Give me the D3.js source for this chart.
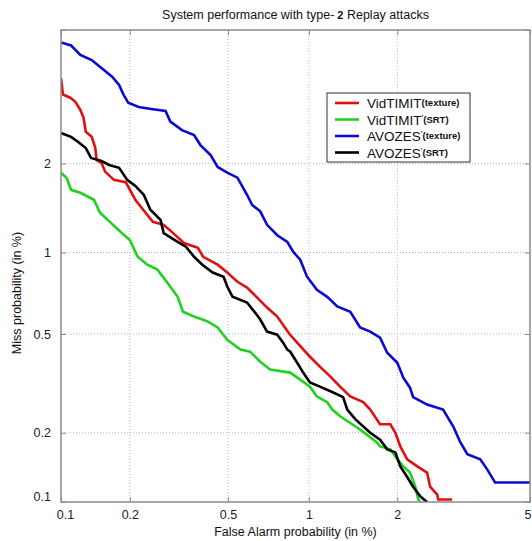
<!DOCTYPE html>
<html><head><meta charset="utf-8">
<script src="https://cdn.jsdelivr.net/npm/d3@7"></script>
<style>body{margin:0;background:#fff;} svg{display:block;font-family:Arial,"Liberation Sans",sans-serif;}</style>
</head><body><svg id="c" width="532" height="541"></svg>
<script>
// ---- data (percent values: [false alarm %, miss %]) ----
const tickValues = [0.1, 0.2, 0.5, 1, 2, 5];
const xTickLabels = ["0.1", "0.2", "0.5", "1", "2", "5"];
const yTickLabels = ["0.1", "0.2", "0.5", "1", "2", ""];
const seriesNames = ["VidTIMIT(texture)", "VidTIMIT'(SRT)", "AVOZES'(texture)", "AVOZES'(SRT)"];
const seriesColors = ["#e01010", "#22d022", "#0a0ad0", "#000000"];

const vidTimitTexture = [[0.100,3.66],[0.102,3.27],[0.110,3.20],[0.116,3.11],[0.122,2.94],[0.126,2.79],[0.129,2.52],[0.137,2.43],[0.142,2.24],[0.144,2.05],[0.151,2.01],[0.157,1.88],[0.171,1.77],[0.192,1.74],[0.197,1.68],[0.211,1.52],[0.233,1.375],[0.250,1.28],[0.277,1.25],[0.303,1.17],[0.335,1.08],[0.381,1.04],[0.400,0.966],[0.456,0.905],[0.497,0.848],[0.544,0.785],[0.592,0.747],[0.647,0.686],[0.704,0.630],[0.768,0.583],[0.850,0.501],[0.923,0.454],[1.009,0.408],[1.094,0.373],[1.191,0.340],[1.287,0.310],[1.395,0.283],[1.543,0.268],[1.629,0.25],[1.756,0.217],[1.898,0.217],[1.971,0.20],[2.045,0.175],[2.152,0.154],[2.317,0.1435],[2.488,0.135],[2.543,0.117],[2.675,0.108],[2.694,0.1026],[2.973,0.1026]];
const vidTimitSRT = [[0.100,1.866],[0.106,1.796],[0.111,1.641],[0.122,1.605],[0.140,1.52],[0.149,1.375],[0.166,1.269],[0.183,1.18],[0.200,1.107],[0.216,0.966],[0.237,0.905],[0.261,0.869],[0.287,0.779],[0.316,0.691],[0.332,0.608],[0.368,0.583],[0.416,0.559],[0.456,0.530],[0.497,0.475],[0.559,0.435],[0.608,0.427],[0.664,0.39],[0.723,0.363],[0.857,0.353],[0.931,0.331],[1.009,0.310],[1.068,0.283],[1.161,0.268],[1.210,0.25],[1.287,0.2345],[1.506,0.2065],[1.715,0.182],[1.756,0.175],[1.898,0.17],[2.0,0.154],[2.091,0.1435],[2.197,0.135],[2.283,0.117],[2.334,0.1026],[2.367,0.100]];
const avozesTexture = [[0.100,4.62],[0.111,4.53],[0.122,4.26],[0.137,4.12],[0.151,3.91],[0.168,3.69],[0.180,3.49],[0.188,3.27],[0.197,3.09],[0.218,3.00],[0.246,2.96],[0.282,2.92],[0.295,2.71],[0.329,2.55],[0.368,2.46],[0.390,2.29],[0.428,2.13],[0.456,1.95],[0.497,1.87],[0.544,1.80],[0.592,1.58],[0.619,1.46],[0.664,1.39],[0.704,1.25],[0.768,1.15],[0.836,1.09],[0.879,1.005],[0.931,0.943],[0.985,0.819],[1.068,0.734],[1.161,0.691],[1.258,0.636],[1.395,0.608],[1.506,0.530],[1.629,0.511],[1.756,0.484],[1.854,0.423],[2.0,0.386],[2.091,0.337],[2.197,0.307],[2.248,0.281],[2.488,0.262],[2.789,0.25],[2.994,0.213],[3.149,0.182],[3.304,0.162],[3.607,0.154],[3.784,0.139],[3.987,0.122],[5.0,0.122]];
const avozesSRT = [[0.100,2.497],[0.111,2.43],[0.119,2.345],[0.129,2.24],[0.136,2.085],[0.151,2.04],[0.163,1.979],[0.180,1.937],[0.195,1.77],[0.211,1.69],[0.229,1.58],[0.244,1.408],[0.269,1.30],[0.277,1.17],[0.316,1.09],[0.342,1.047],[0.368,0.966],[0.397,0.905],[0.436,0.848],[0.481,0.819],[0.497,0.754],[0.521,0.691],[0.592,0.658],[0.636,0.602],[0.664,0.568],[0.704,0.511],[0.768,0.497],[0.807,0.463],[0.836,0.435],[0.857,0.427],[0.908,0.3865],[0.954,0.353],[1.009,0.3225],[1.094,0.310],[1.219,0.2935],[1.318,0.281],[1.362,0.25],[1.450,0.228],[1.629,0.20],[1.756,0.187],[1.854,0.17],[1.971,0.165],[2.045,0.1435],[2.152,0.129],[2.248,0.117],[2.367,0.106],[2.488,0.10]];

// ---- normal deviate (probit) ----
function probit(p){
 const a=[-3.969683028665376e+01,2.209460984245205e+02,-2.759285104469687e+02,1.383577518672690e+02,-3.066479806614716e+01,2.506628277459239e+00];
 const b=[-5.447609879822406e+01,1.615858368580409e+02,-1.556989798598866e+02,6.680131188771972e+01,-1.328068155288572e+01];
 const c=[-7.784894002430293e-03,-3.223964580411365e-01,-2.400758277161838e+00,-2.549732539343734e+00,4.374664141464968e+00,2.938163982698783e+00];
 const d=[7.784695709041462e-03,3.224671290700398e-01,2.445134137142996e+00,3.754408661907416e+00];
 const pl=0.02425;
 if(p<pl){const q=Math.sqrt(-2*Math.log(p));return (((((c[0]*q+c[1])*q+c[2])*q+c[3])*q+c[4])*q+c[5])/((((d[0]*q+d[1])*q+d[2])*q+d[3])*q+1);}
 if(p<=1-pl){const q=p-0.5,r=q*q;return (((((a[0]*r+a[1])*r+a[2])*r+a[3])*r+a[4])*r+a[5])*q/(((((b[0]*r+b[1])*r+b[2])*r+b[3])*r+b[4])*r+1);}
 const q=Math.sqrt(-2*Math.log(1-p));return -(((((c[0]*q+c[1])*q+c[2])*q+c[3])*q+c[4])*q+c[5])/((((d[0]*q+d[1])*q+d[2])*q+d[3])*q+1);
}
const pz = v => probit(v/100);

const L=61, R=530, T=30, B=502;
const zDom=[pz(0.1), pz(5)];
const xS=d3.scaleLinear().domain(zDom).range([L,R]);
const yS=d3.scaleLinear().domain(zDom).range([B,T]);
const X=v=>xS(pz(v)), Y=v=>yS(pz(v));

const svg=d3.select("#c");
svg.append("rect").attr("width",532).attr("height",541).attr("fill","#fff");
svg.append("defs").append("clipPath").attr("id","clip").append("rect")
  .attr("x",L).attr("y",T).attr("width",R-L).attr("height",B-T);

// grid
const g=svg.append("g");
g.selectAll("line.gx").data(tickValues.slice(1,-1)).join("line").attr("class","gx")
 .attr("x1",d=>X(d)).attr("x2",d=>X(d)).attr("y1",T).attr("y2",B)
 .attr("stroke","#b8b8b8").attr("stroke-width",1).attr("stroke-dasharray","1,2");
g.selectAll("line.gy").data(tickValues.slice(1,-1)).join("line").attr("class","gy")
 .attr("y1",d=>Y(d)).attr("y2",d=>Y(d)).attr("x1",L).attr("x2",R)
 .attr("stroke","#b8b8b8").attr("stroke-width",1).attr("stroke-dasharray","1,2");

// axes
const tz=tickValues.map(pz);
function styleAxis(sel){
  sel.select(".domain").remove();
  sel.selectAll(".tick line").attr("stroke","#888");
  sel.selectAll(".tick text").attr("fill","#222").style("font-size","12.5px").style("font-family","Arial,'Liberation Sans',sans-serif");
}
const xAx=svg.append("g").attr("transform",`translate(0,${B})`)
  .call(d3.axisBottom(xS).tickValues(tz).tickFormat((d,i)=>xTickLabels[i]).tickSizeInner(-5).tickSizeOuter(0).tickPadding(8))
  .call(styleAxis);
xAx.selectAll(".tick text").filter((d,i)=>i===0).attr("dx",4);
xAx.selectAll(".tick text").filter((d,i)=>i===tickValues.length-1).attr("text-anchor","end").attr("dx",1);
svg.append("g").attr("transform",`translate(0,${T})`)
  .call(d3.axisTop(xS).tickValues(tz).tickFormat("").tickSizeInner(-5).tickSizeOuter(0))
  .call(styleAxis);
const yAx=svg.append("g").attr("transform",`translate(${L},0)`)
  .call(d3.axisLeft(yS).tickValues(tz).tickFormat((d,i)=>yTickLabels[i]).tickSizeInner(-5).tickSizeOuter(0).tickPadding(10))
  .call(styleAxis);
yAx.selectAll(".tick text").filter((d,i)=>i===0).attr("dy","-0.1em");
svg.append("g").attr("transform",`translate(${R},0)`)
  .call(d3.axisRight(yS).tickValues(tz).tickFormat("").tickSizeInner(-5).tickSizeOuter(0))
  .call(styleAxis);

// curves
const line=d3.line().x(d=>X(d[0])).y(d=>Y(d[1]));
const allSeries=[vidTimitTexture, vidTimitSRT, avozesTexture, avozesSRT];
const cg=svg.append("g").attr("clip-path","url(#clip)");
allSeries.forEach((s,i)=>{
  cg.append("path").datum(s).attr("d",line).attr("fill","none")
    .attr("stroke",seriesColors[i]).attr("stroke-width",2.6).attr("stroke-linejoin","miter");
});

// frame
svg.append("rect").attr("x",L).attr("y",T).attr("width",R-L).attr("height",B-T)
  .attr("fill","none").attr("stroke","#8a8a8a").attr("stroke-width",1.5);

// titles
svg.append("text").attr("x",(L+R)/2).attr("y",19).attr("text-anchor","middle")
  .style("font-size","12.5px").attr("fill","#111")
  .call(t=>{t.append("tspan").text("System performance with type-");
            t.append("tspan").attr("font-weight","bold").style("font-size","11px").attr("dx",3).text("2");
            t.append("tspan").text(" Replay attacks");});
svg.append("text").attr("x",(L+R)/2).attr("y",536).attr("text-anchor","middle")
  .style("font-size","12.5px").attr("fill","#111").text("False Alarm probability (in %)");
svg.append("text").attr("transform","translate(21,293) rotate(-90)").attr("text-anchor","middle")
  .style("font-size","12.5px").attr("fill","#111").text("Miss probability (in %)");

// legend
const legParts=[["VidTIMIT","","(texture)"],["VidTIMIT","'","(SRT)"],["AVOZES","'","(texture)"],["AVOZES","'","(SRT)"]];
const lg=svg.append("g");
lg.append("rect").attr("x",327).attr("y",93).attr("width",143).attr("height",69)
  .attr("fill","#fff").attr("stroke","#333").attr("stroke-width",1);
seriesNames.forEach((n,i)=>{
  const yy=103+i*16.5;
  lg.append("line").attr("x1",335).attr("x2",359).attr("y1",yy).attr("y2",yy)
    .attr("stroke",seriesColors[i]).attr("stroke-width",2.6);
  const t=lg.append("text").attr("x",367).attr("y",yy+5).style("font-size","13.5px").attr("fill","#111");
  t.append("tspan").text(legParts[i][0]);
  if(legParts[i][1]) t.append("tspan").style("font-size","9px").attr("dy",-4).text(legParts[i][1]);
  t.append("tspan").style("font-size","9.5px").attr("font-weight","bold").attr("dy",legParts[i][1]?2:-2).text(legParts[i][2]);
});
</script></body></html>
